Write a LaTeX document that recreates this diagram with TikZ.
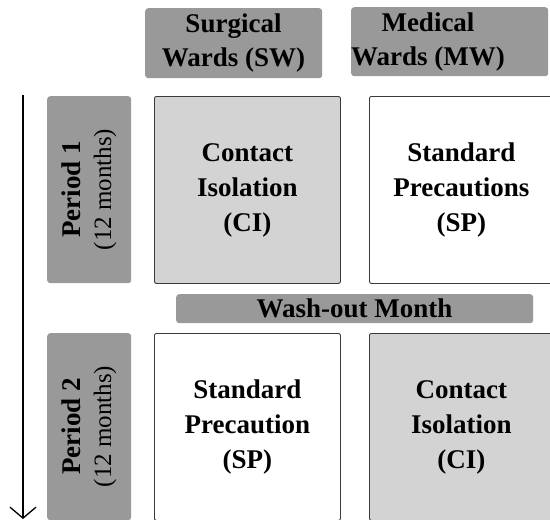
\documentclass[tikz,border=0pt]{standalone}
\usepackage{fontspec}
\setmainfont{Liberation Serif}
\usetikzlibrary{arrows.meta}
\definecolor{hdrgray}{HTML}{999999}
\definecolor{cigray}{HTML}{D3D3D3}
\definecolor{edgegray}{HTML}{3A3A3A}
\begin{document}
\begin{tikzpicture}[x=1pt,y=-1pt,
  hdr/.style={fill=hdrgray, draw=none, rounded corners=3pt, inner sep=0pt, anchor=north west},
  cell/.style={draw=edgegray, line width=0.9pt, rounded corners=2pt, inner sep=0pt, anchor=north west,
    minimum width=#1, minimum height=187pt, align=center, font=\fontsize{27}{35}\selectfont\bfseries},
  bigtxt/.style={align=center, font=\fontsize{27}{34}\selectfont\bfseries, inner sep=0pt},
  pertxt/.style={align=center, rotate=90, inner sep=0pt, font=\fontsize{27}{31}\selectfont},
  timeline/.style={line width=1.3pt, -{Straight Barb[length=11pt,width=26pt,line width=1.3pt]}}
]
\fill[white] (0,0) rectangle (550,520);
\useasboundingbox (0,0) rectangle (550,520);

% headers
\node[hdr, minimum width=177pt, minimum height=70pt] (sw) at (145,8) {};
\node[bigtxt] (swt) at (233.5,43) {Surgical\\Wards (SW)};
\node[hdr, minimum width=197pt, minimum height=69pt] (mw) at (351,7) {};
\node[bigtxt] (mwt) at (428,42) {Medical\\Wards (MW)};

% period labels
\node[hdr, minimum width=84pt, minimum height=187pt] (p1) at (47,96) {};
\node[pertxt] (p1t) at (89,189.5) {\textbf{Period 1}\\{\fontsize{25}{31}\selectfont(12 months)}};
\node[hdr, minimum width=84pt, minimum height=187pt] (p2) at (47,333) {};
\node[pertxt] (p2t) at (89,426.5) {\textbf{Period 2}\\{\fontsize{25}{31}\selectfont(12 months)}};

% wash-out
\node[hdr, minimum width=357pt, minimum height=29pt] (wo) at (176,294) {};
\node[bigtxt] (wot) at (354.5,308.5) {Wash-out Month};

% cells
\node[cell=186pt, fill=cigray] (ci1) at (154,96) {Contact\\Isolation\\(CI)};
\node[cell=184pt, fill=white] (sp1) at (369,96) {Standard\\Precautions\\(SP)};
\node[cell=186pt, fill=white] (sp2) at (154,333) {Standard\\Precaution\\(SP)};
\node[cell=184pt, fill=cigray] (ci2) at (369,333) {Contact\\Isolation\\(CI)};

% timeline arrow
\coordinate (tl0) at (23,95);
\coordinate (tl1) at (23,519);
\draw[timeline] (tl0) -- (tl1);
\end{tikzpicture}
\end{document}
